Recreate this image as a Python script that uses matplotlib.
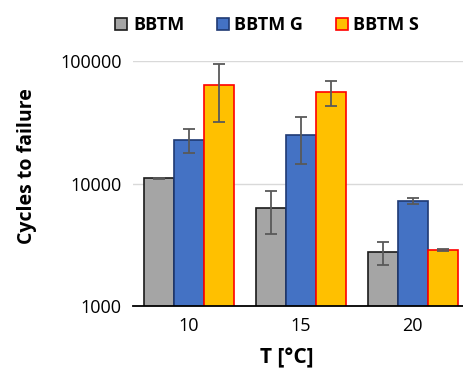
import numpy as np
import matplotlib.pyplot as plt

# Data
temps = ['10', '15', '20']
series = ['BBTM', 'BBTM G', 'BBTM S']
cycles = {
    'BBTM':   [11000, 6300, 2760],
    'BBTM G': [22700, 24700, 7240],
    'BBTM S': [63300, 55800, 2850],
}
errors = {
    'BBTM':   [150, 2400, 600],
    'BBTM G': [5000, 10400, 420],
    'BBTM S': [31500, 12800, 50],
}
fills = ['#A5A5A5', '#4472C4', '#FFC000']
edges = ['#1A1A1A', '#1F3A73', '#FF0000']

plt.rcParams['font.family'] = ['Open Sans', 'DejaVu Sans']

fig = plt.figure(figsize=(4.63, 3.69), dpi=100)
ax = fig.add_axes([0.287, 0.1707, 0.713, 0.664])

x = np.arange(len(temps))
width = 0.268
for i, name in enumerate(series):
    pos = x + (i - 1) * width
    ax.bar(pos, cycles[name], width, color=fills[i], edgecolor=edges[i],
           linewidth=1.2, label=name, zorder=3)
    ax.errorbar(pos, cycles[name], yerr=errors[name], fmt='none',
                ecolor='#595959', elinewidth=1.3, capsize=4, capthick=1.3, zorder=4)

ax.set_yscale('log')
ax.set_ylim(1000, 100000)
ax.set_xlim(-0.5, 2.45)
ax.set_yticks([1000, 10000, 100000])
ax.set_yticklabels(['1000', '10000', '100000'])
ax.minorticks_off()
ax.set_xticks(x)
ax.set_xticklabels(temps)
ax.tick_params(length=0, labelsize=13, pad=8)
ax.grid(axis='y', color='#D9D9D9', linewidth=1, zorder=0)

for side in ['top', 'right', 'left']:
    ax.spines[side].set_visible(False)
ax.spines['bottom'].set_linewidth(1.3)
ax.spines['bottom'].set_zorder(5)

ax.set_xlabel('T [°C]', fontsize=15, fontweight='bold')
ax.set_ylabel('Cycles to failure', fontsize=14, fontweight='bold')
ax.xaxis.set_label_coords(0.465, -0.17)
ax.yaxis.set_label_coords(-0.29, 0.571)

fig.legend(loc='upper center', bbox_to_anchor=(0.577, 1.0), ncol=3, frameon=False,
           prop={'size': 13, 'weight': 'bold'}, handlelength=0.67, handleheight=0.67,
           handletextpad=0.3, columnspacing=1.8)

fig.savefig('out.png', dpi=100)
